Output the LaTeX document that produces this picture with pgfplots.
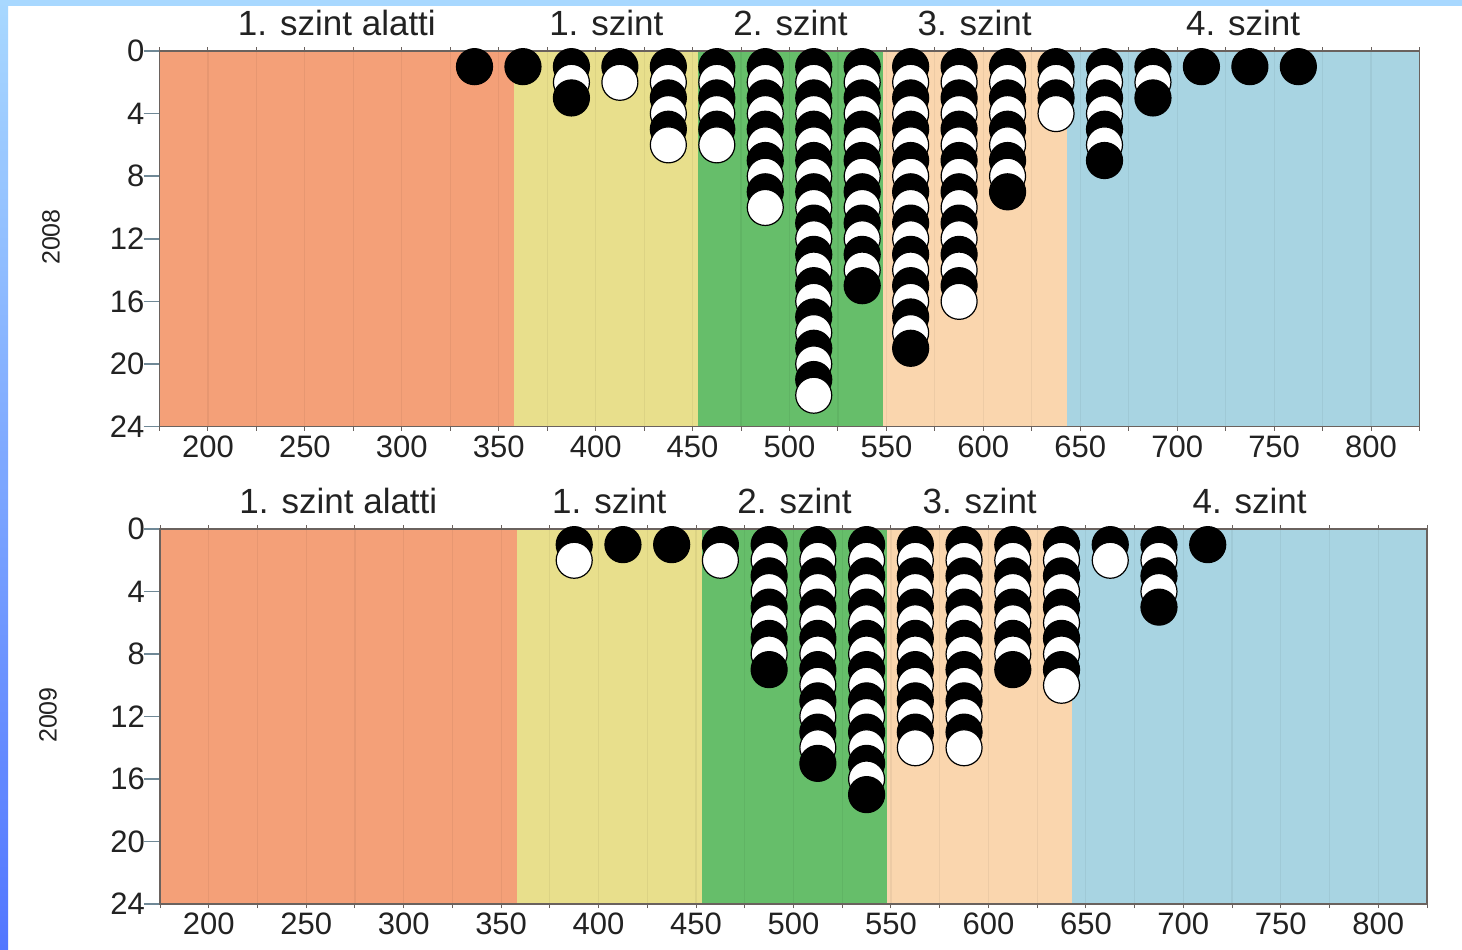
\documentclass[border=0pt]{standalone}
\usepackage{pgfplots}
\usepackage{pgfplotstable}
\pgfplotsset{compat=1.18}
\usepackage{fontspec}
\setmainfont{Liberation Sans}
\definecolor{bOrange}{HTML}{F4A078}
\definecolor{bYellow}{HTML}{E8DF8C}
\definecolor{bGreen}{HTML}{66BE6A}
\definecolor{bPeach}{HTML}{FAD6AE}
\definecolor{bBlue}{HTML}{A8D4E2}
\definecolor{frameTop}{HTML}{A8D8FF}
\definecolor{frameBot}{HTML}{5276FF}
\definecolor{axisGray}{HTML}{6A625E}
\definecolor{ytickc}{HTML}{6F8896}
\definecolor{txt}{HTML}{222222}

% dots: x (bin centre), y (position in stack), colour class
\pgfplotstableread[row sep=\\]{
x y c\\
337.5 1 b\\
362.5 1 b\\
387.5 1 b\\387.5 2 w\\387.5 3 b\\
412.5 1 b\\412.5 2 w\\
437.5 1 b\\437.5 2 w\\437.5 3 b\\437.5 4 w\\437.5 5 b\\437.5 6 w\\
462.5 1 b\\462.5 2 w\\462.5 3 b\\462.5 4 w\\462.5 5 b\\462.5 6 w\\
487.5 1 b\\487.5 2 w\\487.5 3 b\\487.5 4 w\\487.5 5 b\\487.5 6 w\\487.5 7 b\\487.5 8 w\\487.5 9 b\\487.5 10 w\\
512.5 1 b\\512.5 2 w\\512.5 3 b\\512.5 4 w\\512.5 5 b\\512.5 6 w\\512.5 7 b\\512.5 8 w\\512.5 9 b\\512.5 10 w\\512.5 11 b\\512.5 12 w\\512.5 13 b\\512.5 14 w\\512.5 15 b\\512.5 16 w\\512.5 17 b\\512.5 18 w\\512.5 19 b\\512.5 20 w\\512.5 21 b\\512.5 22 w\\
537.5 1 b\\537.5 2 w\\537.5 3 b\\537.5 4 w\\537.5 5 b\\537.5 6 w\\537.5 7 b\\537.5 8 w\\537.5 9 b\\537.5 10 w\\537.5 11 b\\537.5 12 w\\537.5 13 b\\537.5 14 w\\537.5 15 b\\
562.5 1 b\\562.5 2 w\\562.5 3 b\\562.5 4 w\\562.5 5 b\\562.5 6 w\\562.5 7 b\\562.5 8 w\\562.5 9 b\\562.5 10 w\\562.5 11 b\\562.5 12 w\\562.5 13 b\\562.5 14 w\\562.5 15 b\\562.5 16 w\\562.5 17 b\\562.5 18 w\\562.5 19 b\\
587.5 1 b\\587.5 2 w\\587.5 3 b\\587.5 4 w\\587.5 5 b\\587.5 6 w\\587.5 7 b\\587.5 8 w\\587.5 9 b\\587.5 10 w\\587.5 11 b\\587.5 12 w\\587.5 13 b\\587.5 14 w\\587.5 15 b\\587.5 16 w\\
612.5 1 b\\612.5 2 w\\612.5 3 b\\612.5 4 w\\612.5 5 b\\612.5 6 w\\612.5 7 b\\612.5 8 w\\612.5 9 b\\
637.5 1 b\\637.5 2 w\\637.5 3 b\\637.5 4 w\\
662.5 1 b\\662.5 2 w\\662.5 3 b\\662.5 4 w\\662.5 5 b\\662.5 6 w\\662.5 7 b\\
687.5 1 b\\687.5 2 w\\687.5 3 b\\
712.5 1 b\\
737.5 1 b\\
762.5 1 b\\
}\dotsA

\pgfplotstableread[row sep=\\]{
x y c\\
387.5 1 b\\387.5 2 w\\
412.5 1 b\\
437.5 1 b\\
462.5 1 b\\462.5 2 w\\
487.5 1 b\\487.5 2 w\\487.5 3 b\\487.5 4 w\\487.5 5 b\\487.5 6 w\\487.5 7 b\\487.5 8 w\\487.5 9 b\\
512.5 1 b\\512.5 2 w\\512.5 3 b\\512.5 4 w\\512.5 5 b\\512.5 6 w\\512.5 7 b\\512.5 8 w\\512.5 9 b\\512.5 10 w\\512.5 11 b\\512.5 12 w\\512.5 13 b\\512.5 14 w\\512.5 15 b\\
537.5 1 b\\537.5 2 w\\537.5 3 b\\537.5 4 w\\537.5 5 b\\537.5 6 w\\537.5 7 b\\537.5 8 w\\537.5 9 b\\537.5 10 w\\537.5 11 b\\537.5 12 w\\537.5 13 b\\537.5 14 w\\537.5 15 b\\537.5 16 w\\537.5 17 b\\
562.5 1 b\\562.5 2 w\\562.5 3 b\\562.5 4 w\\562.5 5 b\\562.5 6 w\\562.5 7 b\\562.5 8 w\\562.5 9 b\\562.5 10 w\\562.5 11 b\\562.5 12 w\\562.5 13 b\\562.5 14 w\\
587.5 1 b\\587.5 2 w\\587.5 3 b\\587.5 4 w\\587.5 5 b\\587.5 6 w\\587.5 7 b\\587.5 8 w\\587.5 9 b\\587.5 10 w\\587.5 11 b\\587.5 12 w\\587.5 13 b\\587.5 14 w\\
612.5 1 b\\612.5 2 w\\612.5 3 b\\612.5 4 w\\612.5 5 b\\612.5 6 w\\612.5 7 b\\612.5 8 w\\612.5 9 b\\
637.5 1 b\\637.5 2 w\\637.5 3 b\\637.5 4 w\\637.5 5 b\\637.5 6 w\\637.5 7 b\\637.5 8 w\\637.5 9 b\\637.5 10 w\\
662.5 1 b\\662.5 2 w\\
687.5 1 b\\687.5 2 w\\687.5 3 b\\687.5 4 w\\687.5 5 b\\
712.5 1 b\\
}\dotsB

\tikzset{ttl/.style={anchor=base, yshift=8pt, font=\fontsize{17.5}{20}\selectfont, text=txt}}

\pgfplotsset{
  panel/.style={
    scale only axis, clip=false,
    xmin=175, xmax=825, ymin=0, ymax=24, y dir=reverse,
    xtick={200,250,...,800},
    minor xtick={175,225,...,825},
    ytick={0,4,...,24},
    ytick pos=left,
    tick align=outside,
    axis on top,
    xmajorgrids, xminorgrids,
    major grid style={black, opacity=0.05, line width=0.6pt},
    minor grid style={black, opacity=0.05, line width=0.6pt},
    major tick length=2pt, minor tick length=2pt,
    xtick style={axisGray, line width=0.5pt},
    ytick style={ytickc, line width=0.8pt, /pgfplots/major tick length=8pt},
    axis line style={axisGray, line width=0.6pt},
    /pgf/number format/assume math mode=true,
    ticklabel style={font=\fontsize{15.5}{17}\selectfont, text=txt},
    yticklabel style={xshift=-2pt},
    xticklabel style={yshift=1pt},
  },
  dots/.style={
    scatter, only marks, mark size=9pt,
    point meta=explicit symbolic,
    scatter/classes={
      b={mark=*, draw=black, fill=black, line width=0.6pt},
      w={mark=*, draw=black, fill=white, line width=0.6pt}
    },
  },
}

\newcommand{\bands}{%
  \addplot[draw=none, fill=bOrange, forget plot] coordinates {(175,0) (358,0) (358,24) (175,24)} -- cycle;
  \addplot[draw=none, fill=bYellow, forget plot] coordinates {(358,0) (453,0) (453,24) (358,24)} -- cycle;
  \addplot[draw=none, fill=bGreen, forget plot] coordinates {(453,0) (548,0) (548,24) (453,24)} -- cycle;
  \addplot[draw=none, fill=bPeach, forget plot] coordinates {(548,0) (643,0) (643,24) (548,24)} -- cycle;
  \addplot[draw=none, fill=bBlue, forget plot] coordinates {(643,0) (825,0) (825,24) (643,24)} -- cycle;
  \node[ttl] at (axis cs:266.5,0) {1. szint alatti};
  \node[ttl] at (axis cs:405.5,0) {1. szint};
  \node[ttl] at (axis cs:500.5,0) {2. szint};
  \node[ttl] at (axis cs:595.5,0) {3. szint};
  \node[ttl] at (axis cs:734,0) {4. szint};
}

\begin{document}
\begin{tikzpicture}
\fill[white] (0,0) rectangle (731pt,474.5pt);
\fill[frameTop] (0,471.5pt) rectangle (731pt,474.5pt);
\shade[top color=frameTop, bottom color=frameBot] (0,0) rectangle (4pt,474.5pt);

\begin{axis}[panel, at={(79.75pt,261.25pt)}, anchor=south west, width=630pt, height=187.75pt]
\bands
\addplot[dots] table[x=x, y=y, meta=c] {\dotsA};
\end{axis}

\begin{axis}[panel, at={(80pt,22.5pt)}, anchor=south west, width=633.5pt, height=187.5pt]
\bands
\addplot[dots] table[x=x, y=y, meta=c] {\dotsB};
\end{axis}

\node[rotate=90, font=\fontsize{12.5}{14}\selectfont, text=txt] at (25.5pt,356pt) {2008};
\node[rotate=90, font=\fontsize{12.5}{14}\selectfont, text=txt] at (24pt,117pt) {2009};
\end{tikzpicture}
\end{document}
